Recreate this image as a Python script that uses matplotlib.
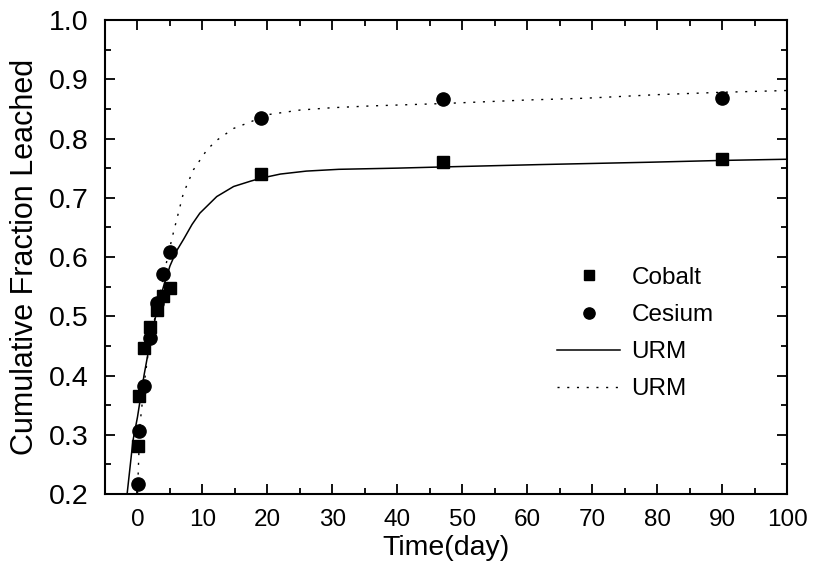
import numpy as np
import matplotlib
matplotlib.use('Agg')
import matplotlib.pyplot as plt
from matplotlib.ticker import MultipleLocator, FormatStrFormatter

plt.rcParams['font.family'] = ['Liberation Sans', 'DejaVu Sans']

# measured points
days = [0.1, 0.25, 1, 2, 3, 4, 5, 19, 47, 90]
cobalt = [0.281, 0.365, 0.447, 0.482, 0.510, 0.535, 0.548, 0.740, 0.761, 0.765]
cesium = [0.217, 0.307, 0.382, 0.463, 0.522, 0.572, 0.608, 0.834, 0.866, 0.868]

# URM model curves
urm_co_x = [-1.6, -0.7, 0, 1, 2, 3, 4, 5, 6, 7.1, 8.4, 9.6, 12.2, 14.8, 17.4,
            19, 22, 26, 31, 40, 47, 62, 79, 90, 100]
urm_co_y = [0.200, 0.290, 0.330, 0.400, 0.460, 0.510, 0.550, 0.585, 0.610, 0.630,
            0.655, 0.674, 0.702, 0.719, 0.728, 0.733, 0.740, 0.745, 0.748, 0.750,
            0.752, 0.756, 0.760, 0.763, 0.765]
urm_cs_x = [0, 0.35, 1.1, 1.9, 3.2, 4.2, 5.0, 5.5, 7.05, 8.6, 10.7, 12.2, 14.8,
            17.4, 19.9, 25, 30, 36, 47, 60, 69, 80, 90, 100]
urm_cs_y = [0.200, 0.314, 0.392, 0.460, 0.522, 0.578, 0.617, 0.640, 0.707, 0.747,
            0.781, 0.797, 0.817, 0.828, 0.840, 0.848, 0.852, 0.855, 0.859, 0.865,
            0.868, 0.874, 0.878, 0.881]

fig = plt.figure(figsize=(8.16, 5.78), dpi=100)
ax = fig.add_axes([0.1287, 0.1453, 0.8358, 0.8201])

ax.plot(days, cobalt, 's', color='black', markersize=8.5, label='Cobalt')
ax.plot(days, cesium, 'o', color='black', markersize=9.5, label='Cesium')
ax.plot(urm_co_x, urm_co_y, '-', color='black', linewidth=1.1, label='URM')
ax.plot(urm_cs_x, urm_cs_y, color='black', linewidth=1.0,
        linestyle=(0, (1.5, 5.5)), label='URM')

ax.set_xlim(-5, 100)
ax.set_ylim(0.2, 1.0)
ax.xaxis.set_major_locator(MultipleLocator(10))
ax.xaxis.set_minor_locator(MultipleLocator(5))
ax.yaxis.set_major_locator(MultipleLocator(0.1))
ax.yaxis.set_minor_locator(MultipleLocator(0.05))
ax.yaxis.set_major_formatter(FormatStrFormatter('%.1f'))

ax.tick_params(which='both', direction='in', top=True, right=True, width=1.3,
               pad=12)
ax.tick_params(which='major', length=7.5)
ax.tick_params(which='minor', length=4)
ax.tick_params(axis='y', labelsize=20.5)
ax.tick_params(axis='x', labelsize=17.5, pad=11)
for s in ax.spines.values():
    s.set_linewidth(1.5)

ax.set_xlabel('Time(day)', fontsize=20.5, labelpad=3)
ax.set_ylabel('Cumulative Fraction Leached', fontsize=22, labelpad=6)

ax.legend(loc='upper left', bbox_to_anchor=(0.663, 0.479), frameon=False,
          fontsize=17.5, numpoints=1, handlelength=2.6, handletextpad=0.45,
          labelspacing=0.62, borderaxespad=0, borderpad=0, markerscale=0.85)

fig.savefig('out.png', dpi=100)
